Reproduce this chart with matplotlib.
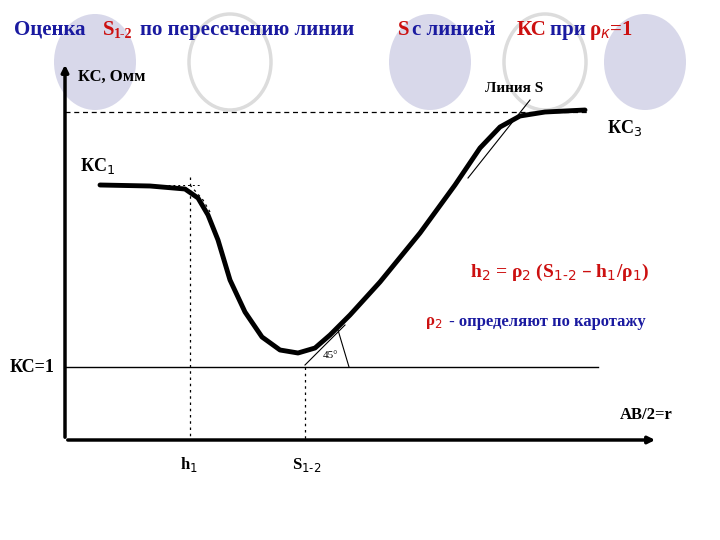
import numpy as np
import matplotlib.pyplot as plt
from matplotlib.patches import Ellipse

# curve (pixel coords, y down)
curve_x = [100, 150, 185, 198, 208, 218, 230, 245, 262, 280, 298, 315, 330, 350, 380, 420, 455, 480, 500, 520, 545, 585]
curve_y = [185, 186, 189, 198, 215, 240, 280, 312, 337, 350, 353, 348, 335, 315, 282, 233, 185, 148, 127, 116, 112, 110]

# background circles: centre x, filled?
circle_x = [95, 230, 430, 545, 645]
circle_fill = [True, False, True, False, True]

h1_x, s12_x = 190, 305
kc1_y, kc_eq1_y, top_y, axis_y = 185, 367, 112, 440

blue, red = "#1a1aa0", "#cc1010"
plt.rcParams['font.family'] = ['Liberation Serif', 'DejaVu Serif']

fig = plt.figure(figsize=(7.2, 5.4), dpi=100)
ax = fig.add_axes([0, 0, 1, 1])
ax.set_xlim(0, 720)
ax.set_ylim(540, 0)
ax.axis('off')

for cx, filled in zip(circle_x, circle_fill):
    if filled:
        ax.add_patch(Ellipse((cx, 62), 82, 96, facecolor="#d8d8ea", edgecolor="none", zorder=0))
    else:
        ax.add_patch(Ellipse((cx, 62), 82, 96, facecolor="none", edgecolor="#dcdcdc", lw=2.5, zorder=0))

# axes
ax.annotate("", xy=(65, 62), xytext=(65, axis_y), arrowprops=dict(arrowstyle="-|>", lw=2.5, color="black"))
ax.annotate("", xy=(658, axis_y), xytext=(65, axis_y), arrowprops=dict(arrowstyle="-|>", lw=2.5, color="black"))

ax.plot([65, 590], [top_y, top_y], ls=(0, (4, 3)), color="black", lw=0.9)
ax.plot([65, 598], [kc_eq1_y, kc_eq1_y], color="black", lw=1)
ax.plot([h1_x, h1_x], [kc1_y - 8, axis_y], ls=(0, (2, 3)), color="black", lw=0.9)
ax.plot([h1_x, 203, 210], [kc1_y, 200, 212], ls=(0, (2, 3)), color="black", lw=0.9)
ax.plot([s12_x, s12_x], [kc_eq1_y, axis_y], ls=(0, (2, 3)), color="black", lw=0.9)
ax.plot([100, 200], [kc1_y, kc1_y], ls=(0, (2, 3)), color="black", lw=0.7)

ax.plot(curve_x, curve_y, color="black", lw=3.5, solid_capstyle="round", zorder=3)

# tangent lines
ax.plot([s12_x, 345], [kc_eq1_y - 2, 325], color="black", lw=0.8)
ax.plot([338, 349], [330, kc_eq1_y], color="black", lw=0.8)
ax.plot([468, 530], [178, 100], color="black", lw=0.8)

ax.text(14, 30, "Оценка ", color=blue, fontsize=15, fontweight="bold", va="center")
ax.text(17, 30, "Оценка $\\mathbf{S_{1\\text{-}2}}$ по пересечению линии S с линией КС при ρ$_к$=1",
        color=blue, fontsize=15, fontweight="bold", va="center", alpha=0)
x = 14
parts = [("Оценка ", blue), ("S", red)]
t = ax.text(103, 30, "S", color=red, fontsize=15, fontweight="bold", va="center")
ax.text(114, 34, "1-2", color=red, fontsize=10, fontweight="bold", va="center")
ax.text(140, 30, "по пересечению линии ", color=blue, fontsize=15, fontweight="bold", va="center")
ax.text(398, 30, "S", color=red, fontsize=15, fontweight="bold", va="center")
ax.text(412, 30, "с линией ", color=blue, fontsize=15, fontweight="bold", va="center")
ax.text(517, 30, "КС", color=red, fontsize=15, fontweight="bold", va="center")
ax.text(550, 30, "при ", color=blue, fontsize=15, fontweight="bold", va="center")
ax.text(589, 30, "ρ$_к$=1", color=red, fontsize=15, fontweight="bold", va="center")

ax.text(78, 77, "КС, Омм", fontsize=12, fontweight="bold", va="center")
ax.text(485, 89, "Линия S", fontsize=11, fontweight="bold", va="center")
ax.text(607, 128, "КС$_3$", fontsize=13, fontweight="bold", va="center")
ax.text(80, 166, "КС$_1$", fontsize=13, fontweight="bold", va="center")
ax.text(10, 367, "КС=1", fontsize=13, fontweight="bold", va="center")
ax.text(620, 415, "АВ/2=r", fontsize=12, fontweight="bold", va="center")
ax.text(180, 465, "h$_1$", fontsize=12, fontweight="bold", va="center")
ax.text(292, 465, "S$_{1\\text{-}2}$", fontsize=12, fontweight="bold", va="center")
ax.text(323, 355, "45°", fontsize=8, va="center")
ax.text(470, 272, "h$_2$ = ρ$_2$ (S$_{1\\text{-}2}$ – h$_1$/ρ$_1$)", color=red, fontsize=14, fontweight="bold", va="center")
ax.text(425, 323, "ρ$_2$", color=red, fontsize=12, fontweight="bold", va="center")
ax.text(445, 322, " - определяют по каротажу", color=blue, fontsize=12, fontweight="bold", va="center")

fig.savefig("out.png", dpi=100)
